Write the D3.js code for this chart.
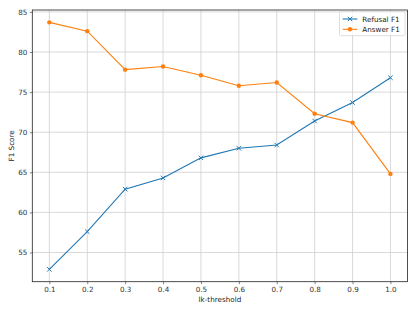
<!DOCTYPE html>
<html>
<head>
<meta charset="utf-8">
<script src="https://cdn.jsdelivr.net/npm/d3@7"></script>
<style>
  html, body { margin: 0; padding: 0; background: #fff; }
  svg { display: block; font-family: "DejaVu Sans", sans-serif; }
</style>
</head>
<body>
<svg id="chart" width="415" height="312"></svg>
<script>
const thresholds = [0.1, 0.2, 0.3, 0.4, 0.5, 0.6, 0.7, 0.8, 0.9, 1.0];
const refusalF1 = [52.9, 57.6, 62.9, 64.3, 66.8, 68.0, 68.4, 71.4, 73.7, 76.8];
const answerF1  = [83.7, 82.6, 77.8, 78.2, 77.1, 75.8, 76.2, 72.3, 71.2, 64.8];
const xTicks = [0.1, 0.2, 0.3, 0.4, 0.5, 0.6, 0.7, 0.8, 0.9, 1.0];
const yTicks = [55, 60, 65, 70, 75, 80, 85];
const seriesNames = ["Refusal F1", "Answer F1"];

const svg = d3.select("#chart");
const L = 32.3, R = 407.5, T = 10, B = 281.7;
const x = d3.scaleLinear().domain([0.055, 1.045]).range([L, R]);
const y = d3.scaleLinear().domain([51.36, 85.24]).range([B, T]);

const fs = 7.2;
const gridColor = "#cfcfcf";

// grid
svg.append("g").selectAll("line").data(xTicks).join("line")
  .attr("x1", d => x(d)).attr("x2", d => x(d)).attr("y1", T).attr("y2", B)
  .attr("stroke", gridColor).attr("stroke-width", 0.8);
svg.append("g").selectAll("line").data(yTicks).join("line")
  .attr("x1", L).attr("x2", R).attr("y1", d => y(d)).attr("y2", d => y(d))
  .attr("stroke", gridColor).attr("stroke-width", 0.8);

// axes
const xAxis = d3.axisBottom(x).tickValues(xTicks).tickFormat(d3.format(".1f")).tickSizeOuter(0).tickSize(2.5).tickPadding(2.5);
const yAxis = d3.axisLeft(y).tickValues(yTicks).tickFormat(d3.format("d")).tickSizeOuter(0).tickSize(2.5).tickPadding(2.5);
const gx = svg.append("g").attr("transform", `translate(0,${B})`).call(xAxis);
const gy = svg.append("g").attr("transform", `translate(${L},0)`).call(yAxis);
[gx, gy].forEach(g => {
  g.select(".domain").remove();
  g.selectAll(".tick line").attr("stroke", "#333").attr("stroke-width", 0.6);
  g.selectAll(".tick text").attr("font-size", fs).attr("fill", "#333").attr("font-family", "DejaVu Sans");
});

// frame
svg.append("rect").attr("x", L).attr("y", T).attr("width", R - L).attr("height", B - T)
  .attr("fill", "none").attr("stroke", "#222").attr("stroke-width", 0.8);

// lines
const blue = "#1f77b4", orange = "#ff7f0e";
const line = d3.line().x((d, i) => x(thresholds[i])).y(d => y(d));
svg.append("path").datum(refusalF1).attr("d", line).attr("fill", "none").attr("stroke", blue).attr("stroke-width", 1.1);
svg.append("path").datum(answerF1).attr("d", line).attr("fill", "none").attr("stroke", orange).attr("stroke-width", 1.1);

const xMark = (cx, cy, s) => `M${cx - s},${cy - s}L${cx + s},${cy + s}M${cx - s},${cy + s}L${cx + s},${cy - s}`;
svg.append("g").selectAll("path").data(refusalF1).join("path")
  .attr("d", (d, i) => xMark(x(thresholds[i]), y(d), 2.2))
  .attr("stroke", blue).attr("stroke-width", 1.0).attr("fill", "none");
svg.append("g").selectAll("circle").data(answerF1).join("circle")
  .attr("cx", (d, i) => x(thresholds[i])).attr("cy", d => y(d)).attr("r", 2.2).attr("fill", orange);

// legend
const lg = svg.append("g");
lg.append("rect").attr("x", 339.5).attr("y", 11.7).attr("width", 65.5).attr("height", 24)
  .attr("fill", "#fff").attr("fill-opacity", 0.8).attr("stroke", "#d6d6d6").attr("stroke-width", 0.8).attr("rx", 1.5);
const rows = [{name: seriesNames[0], c: blue, m: "x", yy: 19}, {name: seriesNames[1], c: orange, m: "o", yy: 29.3}];
rows.forEach(r => {
  lg.append("line").attr("x1", 342.7).attr("x2", 357.3).attr("y1", r.yy).attr("y2", r.yy).attr("stroke", r.c).attr("stroke-width", 1.1);
  if (r.m === "x") lg.append("path").attr("d", xMark(350, r.yy, 2.2)).attr("stroke", r.c).attr("stroke-width", 1.0);
  else lg.append("circle").attr("cx", 350).attr("cy", r.yy).attr("r", 2.2).attr("fill", r.c);
  lg.append("text").attr("x", 362.3).attr("y", r.yy).attr("dy", "0.35em").attr("font-size", fs).attr("fill", "#222").text(r.name);
});

// axis labels
svg.append("text").attr("x", (L + R) / 2).attr("y", 299).attr("dy", "0.35em").attr("text-anchor", "middle")
  .attr("font-size", fs).attr("fill", "#222").text("lk-threshold");
svg.append("text").attr("transform", `translate(11,${(T + B) / 2}) rotate(-90)`).attr("dy", "0.35em").attr("text-anchor", "middle")
  .attr("font-size", fs).attr("fill", "#222").text("F1 Score");
</script>
</body>
</html>
